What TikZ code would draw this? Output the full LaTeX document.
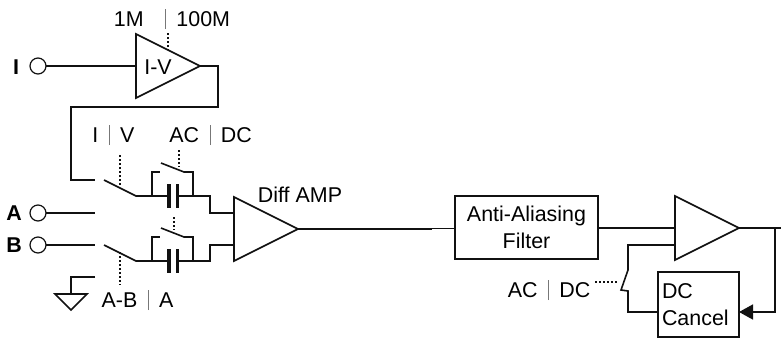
\documentclass[tikz,border=0pt]{standalone}
\usepackage{fontspec}
\setmainfont{Liberation Sans}
\usepackage{tikz}
\usetikzlibrary{arrows.meta,positioning,shapes.geometric}
\definecolor{wire}{HTML}{111111}
\definecolor{sepgray}{HTML}{777777}
\newcommand{\sepbar}{\hspace{10.5bp}\textcolor{sepgray}{\rule[-3bp]{0.8bp}{20bp}}\hspace{10.5bp}}
\newcommand{\fsize}{\fontsize{21.5}{27}\selectfont}
\tikzset{
  conn/.style={draw=wire, line width=1.6bp},
  thinconn/.style={draw=wire, line width=1bp},
  ampl/.style={draw=wire, line width=1.6bp, isosceles triangle, isosceles triangle stretches,
    shape border rotate=0, minimum width=64bp, minimum height=64bp, inner sep=0pt, outer sep=0pt, anchor=west},
  blockbox/.style={draw=wire, line width=1.6bp, align=center, inner sep=0pt, outer sep=0pt, font=\fsize},
  port/.style={circle, draw=wire, line width=1.2bp, inner sep=0pt, minimum size=16bp, outer sep=0pt},
  ctrl/.style={draw=wire, line width=2bp, dash pattern=on 2bp off 2bp},
  plate/.style={draw=wire, line width=3.6bp},
  lbl/.style={inner sep=0pt, font=\fsize},
  boldlbl/.style={inner sep=0pt, font=\fsize\bfseries}
}
\begin{document}
\begin{tikzpicture}[x=1bp,y=-1bp]
  \useasboundingbox (0,0) rectangle (781,338);
  % current input and I-V stage
  \node[boldlbl] (labi) at (16,67) {I};
  \node[port] (porti) at (38,66) {};
  \node[ampl] (ampiv) at (136,66) {};
  \node[lbl] (labiv) at (158,67) {I-V};
  \node[lbl] (labrange) at (172,19) {1M\hspace{11bp}\sepbar 100M};
  \coordinate (ivtop) at (168,33);
  \coordinate (ivctrl) at (168,50);
  \coordinate (ivr) at (218,66);
  \coordinate (ivd) at (218,107);
  \coordinate (ivl) at (71,107);
  \coordinate (swin) at (71,180);
  \coordinate (swend) at (95,180);
  \draw[conn] (porti) -- (ampiv.west);
  \draw[conn] (ampiv.apex) -- (ivr) -- (ivd) -- (ivl) -- (swin) -- (swend);
  \draw[ctrl] (ivtop) -- (ivctrl);
  % inputs A and B
  \node[boldlbl] (laba) at (14,213) {A};
  \node[boldlbl] (labb) at (14,245) {B};
  \node[port] (porta) at (38,213) {};
  \node[port] (portb) at (38,245) {};
  \coordinate (aend) at (95,213);
  \coordinate (bend) at (95,245);
  \draw[conn] (porta) -- (aend);
  \draw[conn] (portb) -- (bend);
  % two coupling stages
  \foreach \chan/\yc/\yin in {p/196/213,n/261/245} {
    \pgfmathsetmacro{\ysw}{\yc-16}
    \pgfmathsetmacro{\yby}{\yc-24}
    \pgfmathsetmacro{\ybl}{\yc-33}
    \coordinate (blade\chan) at (104,\ysw);
    \coordinate (hinge\chan) at (136,\yc);
    \coordinate (capl\chan) at (168,\yc);
    \coordinate (capr\chan) at (178,\yc);
    \coordinate (jl\chan) at (152,\yc);
    \coordinate (jr\chan) at (193,\yc);
    \coordinate (out\chan) at (210,\yc);
    \coordinate (ampin\chan) at (234,\yin);
    \draw[conn] (blade\chan) -- (hinge\chan) -- (capl\chan);
    \draw[conn] (capr\chan) -- (out\chan) -- (out\chan |- ampin\chan) -- (ampin\chan);
    \draw[plate] (168.7,\yc-12) -- (168.7,\yc+12);
    \draw[plate] (177.5,\yc-12) -- (177.5,\yc+12);
    \draw[conn] (jl\chan) -- (152,\yby) -- (160,\yby);
    \draw[conn] (161,\ybl) -- (184,\yby) -- (193,\yby) -- (jr\chan);
  }
  % ground leg
  \coordinate (gndend) at (95,277);
  \coordinate (gndtop) at (71,277);
  \coordinate (gndrail) at (71,294);
  \draw[conn] (gndend) -- (gndtop) -- (gndrail);
  \draw[conn] (55,294) -- (87,294) -- (71,310) -- cycle;
  % switch controls
  \draw[ctrl] (120,155) -- (120,185);
  \draw[ctrl] (179,150) -- (179,167);
  \draw[ctrl] (174,217) -- (174,230);
  \draw[ctrl] (120,252) -- (120,285);
  \node[lbl] (labiv2) at (113.5,135) {I\sepbar V};
  \node[lbl] (labac) at (210.5,135) {AC\sepbar DC};
  \node[lbl] (labab) at (137.5,300) {A-B\sepbar A};
  % diff amp
  \node[ampl] (ampdiff) at (234,229) {};
  \node[lbl] (labdiff) at (300,195) {Diff AMP};
  % filter
  \node[blockbox, minimum width=143bp, minimum height=63bp] (filter) at (526.5,227.5) {Anti-Aliasing\\Filter};
  \coordinate (jogr) at (432,229);
  \coordinate (jogl) at (432,228);
  \draw[conn] (ampdiff.apex) -- (jogr);
  \draw[thinconn] (jogl) -- (filter.west |- jogl);
  % output amp and dc loop
  \node[ampl] (ampout) at (675,228) {};
  \node[blockbox, minimum width=81bp, minimum height=65bp, text width=73bp, align=left] (cancel) at (698.5,304.5) {DC\\Cancel};
  \coordinate (lin) at (675,245);
  \coordinate (lcorner) at (628,245);
  \coordinate (lsw) at (628,270);
  \coordinate (lkink) at (621,290);
  \coordinate (lback) at (628,291);
  \coordinate (lbot) at (628,312);
  \coordinate (outend) at (781,228);
  \coordinate (tap) at (775,228);
  \coordinate (tapd) at (775,312);
  \draw[conn] (filter.east |- ampout.west) -- (ampout.west);
  \draw[conn] (lin) -- (lcorner) -- (lsw) -- (lkink) -- (lback) -- (lbot) -- (cancel.west |- lbot);
  \draw[conn] (ampout.apex) -- (outend);
  \draw[conn, -{Triangle[length=14bp,width=15bp]}] (tap) -- (tapd) -- (cancel.east |- tapd);
  \draw[ctrl] (595,282) -- (618,282);
  \node[lbl] (labac2) at (549,290) {AC\sepbar DC};
\end{tikzpicture}
\end{document}
